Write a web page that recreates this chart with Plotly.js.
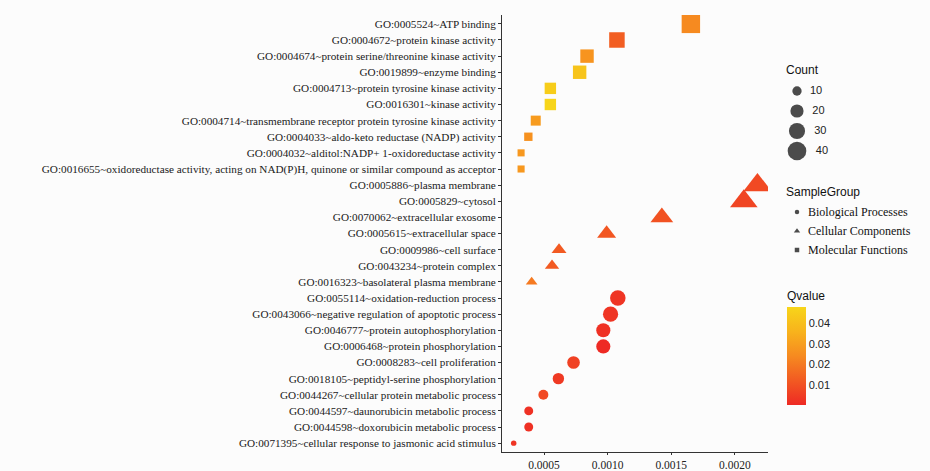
<!DOCTYPE html>
<html>
<head>
<meta charset="utf-8">
<script src="https://cdn.plot.ly/plotly-3.0.1.min.js"></script>
<style>
html,body{margin:0;padding:0;background:#fcfcfc;}
#chart{width:930px;height:471px;}
</style>
</head>
<body>
<div id="chart"></div>
<script>
// ---- data (top to bottom) ----
const categories = [
  "GO:0005524~ATP binding",
  "GO:0004672~protein kinase activity",
  "GO:0004674~protein serine/threonine kinase activity",
  "GO:0019899~enzyme binding",
  "GO:0004713~protein tyrosine kinase activity",
  "GO:0016301~kinase activity",
  "GO:0004714~transmembrane receptor protein tyrosine kinase activity",
  "GO:0004033~aldo-keto reductase (NADP) activity",
  "GO:0004032~alditol:NADP+ 1-oxidoreductase activity",
  "GO:0016655~oxidoreductase activity, acting on NAD(P)H, quinone or similar compound as acceptor",
  "GO:0005886~plasma membrane",
  "GO:0005829~cytosol",
  "GO:0070062~extracellular exosome",
  "GO:0005615~extracellular space",
  "GO:0009986~cell surface",
  "GO:0043234~protein complex",
  "GO:0016323~basolateral plasma membrane",
  "GO:0055114~oxidation-reduction process",
  "GO:0043066~negative regulation of apoptotic process",
  "GO:0046777~protein autophosphorylation",
  "GO:0006468~protein phosphorylation",
  "GO:0008283~cell proliferation",
  "GO:0018105~peptidyl-serine phosphorylation",
  "GO:0044267~cellular protein metabolic process",
  "GO:0044597~daunorubicin metabolic process",
  "GO:0044598~doxorubicin metabolic process",
  "GO:0071395~cellular response to jasmonic acid stimulus"
];
const sampleGroup = [
  "MF","MF","MF","MF","MF","MF","MF","MF","MF","MF",
  "CC","CC","CC","CC","CC","CC","CC",
  "BP","BP","BP","BP","BP","BP","BP","BP","BP","BP"
];
const ratioValues = [
  0.001654, 0.001073, 0.000838, 0.000780, 0.000550, 0.000550, 0.000435, 0.000377, 0.000320, 0.000320,
  0.002177, 0.002070, 0.001426, 0.000992, 0.000618, 0.000563, 0.000403,
  0.001080, 0.001023, 0.000966, 0.000966, 0.000732, 0.000613, 0.000495, 0.000380, 0.000380, 0.000262
];
const countValues = [
  34, 24, 18, 18, 13, 13, 10, 7, 5, 5,
  46, 44, 30, 21, 13, 12, 8,
  24, 23, 20, 20, 16, 13, 10, 8, 8, 3
];
const qValues = [
  0.024, 0.013, 0.027, 0.042, 0.045, 0.0478, 0.029, 0.026, 0.028, 0.028,
  0.008, 0.007, 0.010, 0.011, 0.012, 0.012, 0.020,
  0.003, 0.003, 0.002, 0.0002, 0.006, 0.004, 0.008, 0.002, 0.002, 0.003
];
const groupNames = {BP: "Biological Processes", CC: "Cellular Components", MF: "Molecular Functions"};
const groupSymbols = {BP: "circle", CC: "triangle-up", MF: "square"};
const xTickVals = [0.0005, 0.0010, 0.0015, 0.0020];
const xTickText = ["0.0005", "0.0010", "0.0015", "0.0020"];
const countLegendValues = [10, 20, 30, 40];
const qTickVals = [0.01, 0.02, 0.03, 0.04];

// ---- styles ----
const serif = "Liberation Serif, Times New Roman, serif";
const sans = "Liberation Sans, Arial, sans-serif";
const sizeRef = {BP: 0.2, CC: 0.154, MF: 0.2};

const traces = [];
["MF","CC","BP"].forEach(g => {
  const idx = sampleGroup.map((s,i)=> s===g ? i : -1).filter(i=>i>=0);
  traces.push({
    type: "scatter", mode: "markers",
    x: idx.map(i=>ratioValues[i]),
    y: idx.map(i=>categories[i]),
    name: groupNames[g],
    showlegend: false,
    hoverinfo: "skip",
    marker: {
      symbol: groupSymbols[g],
      size: idx.map(i=>countValues[i]),
      sizemode: "area",
      sizeref: sizeRef[g],
      color: idx.map(i=>qValues[i]),
      coloraxis: "coloraxis",
      line: {width: 0},
      opacity: 1
    }
  });
});

// Count legend (black circles, same size scale)
const cntY = [91, 111, 131, 151];
traces.push({
  type: "scatter", mode: "markers+text",
  x: countLegendValues.map(()=>797),
  y: cntY,
  xaxis: "x2", yaxis: "y2",
  text: countLegendValues.map(v=>"  " + v),
  textposition: "middle right",
  textfont: {family: sans, size: 11, color: "#222"},
  hoverinfo: "skip", showlegend: false,
  marker: {size: countLegendValues, sizemode: "area", sizeref: 0.23, color: "#000", line: {width: 0}},
  cliponaxis: false
});
// SampleGroup legend keys
const sgKeys = ["BP","CC","MF"];
traces.push({
  type: "scatter", mode: "markers",
  x: sgKeys.map(()=>797),
  y: [212, 231, 250],
  xaxis: "x2", yaxis: "y2",
  hoverinfo: "skip", showlegend: false,
  marker: {symbol: sgKeys.map(k=>groupSymbols[k]), size: [4.5, 5.5, 4.5], color: "#000", line: {width: 0}},
  cliponaxis: false
});

const annotations = [
  {text: "Count", x: 784, y: 70},
  {text: "SampleGroup", x: 784, y: 192},
].map(a => ({text: a.text, x: a.x, y: a.y, xref: "x2", yref: "y2", xanchor: "left", yanchor: "middle",
  showarrow: false, font: {family: sans, size: 12, color: "#111"}}));
sgKeys.forEach((k, i) => {
  annotations.push({text: groupNames[k], x: 806, y: [212, 231, 250][i], xref: "x2", yref: "y2",
    xanchor: "left", yanchor: "middle", showarrow: false, font: {family: serif, size: 12, color: "#111"}});
});

const layout = {
  width: 930, height: 471,
  margin: {l: 502, r: 0, t: 15, b: 19, pad: 0},
  paper_bgcolor: "#fcfcfc",
  plot_bgcolor: "#fcfcfc",
  showlegend: false,
  xaxis: {
    domain: [0, 266/428],
    range: [0.00017, 0.00226],
    tickvals: xTickVals, ticktext: xTickText,
    showgrid: false, zeroline: false,
    showline: true, linecolor: "#333", linewidth: 1,
    ticks: "outside", ticklen: 2, tickcolor: "#333",
    tickfont: {family: serif, size: 11.5, color: "#222"},
    fixedrange: true
  },
  yaxis: {
    type: "category",
    categoryorder: "array", categoryarray: categories,
    range: [26.55, -0.55],
    showgrid: false, zeroline: false,
    showline: true, linecolor: "#333", linewidth: 1,
    ticks: "outside", ticklen: 3, tickcolor: "#333",
    tickfont: {family: serif, size: 11.2, color: "#1a1a1a"},
    fixedrange: true
  },
  xaxis2: {domain: [270/428, 1], range: [772, 930], visible: false, fixedrange: true},
  yaxis2: {domain: [0, 1], range: [452, 15], anchor: "x2", visible: false, fixedrange: true},
  coloraxis: {
    cmin: 0.0002, cmax: 0.0478,
    colorscale: [
      [0, "#ee2a24"], [0.25, "#f25a22"], [0.5, "#f68a20"], [0.75, "#f8b31c"], [1, "#f7d51a"]
    ],
    colorbar: {
      title: {text: "Qvalue", side: "top", font: {family: sans, size: 12, color: "#111"}},
      x: (787-502)/428, xanchor: "left",
      y: (452-346.5)/437, yanchor: "middle",
      len: 117, lenmode: "pixels",
      thickness: 19, thicknessmode: "pixels",
      outlinewidth: 0,
      tickvals: qTickVals,
      ticktext: ["0.01","0.02","0.03","0.04"],
      ticks: "",
      tickfont: {family: sans, size: 11, color: "#222"},
      xpad: 0, ypad: 0
    }
  },
  annotations: annotations
};

Plotly.newPlot("chart", traces, layout, {displayModeBar: false, staticPlot: true});
</script>
</body>
</html>
